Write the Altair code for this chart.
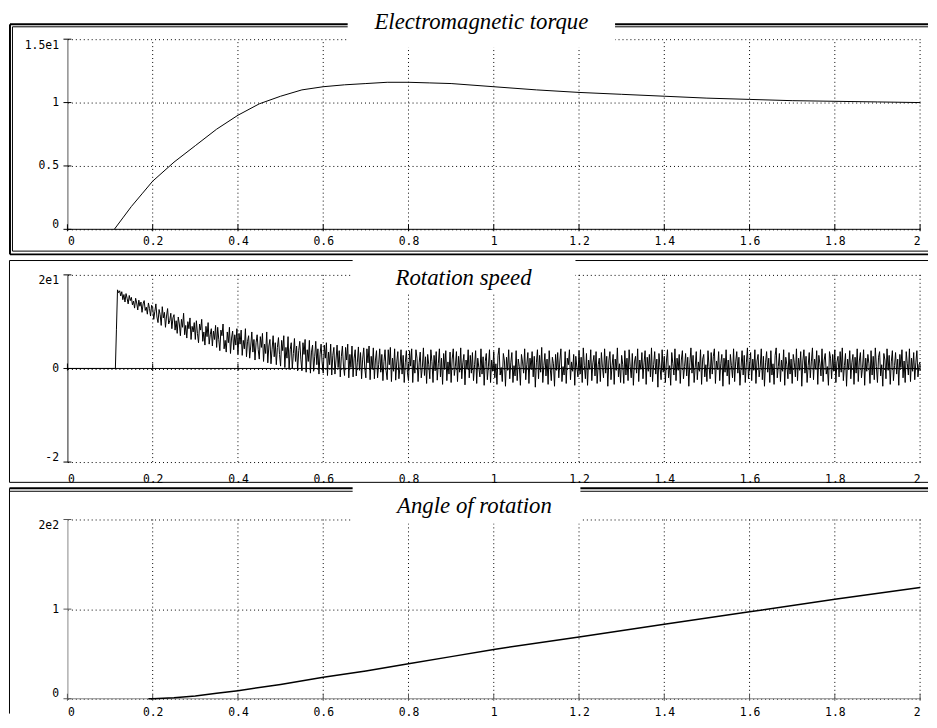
import altair as alt
import pandas as pd

# ---------------- data ----------------
X_TICKS = [0, 0.2, 0.4, 0.6, 0.8, 1.0, 1.2, 1.4, 1.6, 1.8, 2.0]
X_LABELS = ["0", "0.2", "0.4", "0.6", "0.8", "1", "1.2", "1.4", "1.6", "1.8", "2"]

TITLES = ["Electromagnetic torque", "Rotation speed", "Angle of rotation"]

TORQUE_TICKS = [0, 0.5, 1, 1.5]
TORQUE_LABELS = ["0", "0.5", "1", "1.5e1"]
TORQUE_T = [0.11, 0.13, 0.15, 0.175, 0.2, 0.25, 0.3, 0.35, 0.4, 0.45, 0.5, 0.55,
            0.6, 0.65, 0.7, 0.75, 0.8, 0.85, 0.9, 1.0, 1.1, 1.2, 1.3, 1.4, 1.5,
            1.6, 1.7, 1.8, 1.9, 2.0]
TORQUE_V = [0.0, 0.09, 0.18, 0.28, 0.38, 0.53, 0.66, 0.79, 0.90, 0.99, 1.05, 1.10,
            1.125, 1.14, 1.15, 1.16, 1.16, 1.155, 1.15, 1.125, 1.10, 1.08, 1.065, 1.05, 1.035,
            1.025, 1.015, 1.01, 1.005, 1.0]

SPEED_TICKS = [-2, 0, 2]
SPEED_LABELS = ["-2", "0", "2e1"]
SPEED_DT = 0.0025
SPEED_V = [
    0, 0, 0, 0, 0, 0, 0, 0, 0, 0, 0, 0, 0, 0, 0, 0, 0, 0, 0, 0,
    0, 0, 0, 0, 0, 0, 0, 0, 0, 0, 0, 0, 0, 0, 0, 0, 0, 0, 0, 0,
    0, 0, 0, 0, 0, 0,
    0.84, 1.68, 1.62, 1.66,
    1.55, 1.64, 1.47, 1.58, 1.42, 1.60, 1.50, 1.38, 1.56, 1.45,
    1.52, 1.36, 1.44, 1.29, 1.50, 1.40, 1.25, 1.46, 1.33, 1.42,
    1.20, 1.38, 1.45, 1.24, 1.31, 1.16, 1.40, 1.28, 1.12, 1.35,
    1.30, 1.05, 1.22, 1.38, 1.10, 0.98, 1.26, 1.15, 0.92, 1.32,
    1.08, 1.20, 0.88, 1.12, 1.28, 0.95, 1.02, 1.18, 0.85, 1.08,
    1.15, 0.82, 1.02, 0.75, 1.10, 0.95, 0.70, 1.05, 0.88, 1.18,
    0.72, 0.92, 0.65, 1.00, 0.85, 1.08, 0.62, 0.90, 0.78, 0.98,
    0.62, 1.02, 0.75, 0.55, 0.95, 0.82, 1.05, 0.58, 0.78, 0.50,
    0.90, 0.68, 0.98, 0.52, 0.72, 0.85, 0.48, 0.80, 0.62, 0.92,
    0.45, 0.88, 0.62, 0.38, 0.82, 0.70, 0.95, 0.42, 0.60, 0.35,
    0.78, 0.55, 0.88, 0.32, 0.65, 0.80, 0.40, 0.72, 0.50, 0.85,
    0.30, 0.75, 0.52, 0.82, 0.28, 0.60, 0.42, 0.85, 0.25, 0.58,
    0.70, 0.22, 0.48, 0.78, 0.35, 0.62, 0.18, 0.55, 0.72, 0.40,
    0.20, 0.68, 0.45, 0.75, 0.15, 0.52, 0.32, 0.78, 0.12, 0.48,
    0.62, 0.10, 0.40, 0.70, 0.25, 0.55, 0.08, 0.45, 0.66, 0.30,
    0.05, 0.60, 0.38, 0.70, 0.02, 0.45, 0.22, 0.68, -0.02, 0.40,
    0.55, 0.00, 0.32, 0.64, 0.15, 0.48, -0.05, 0.38, 0.58, 0.20,
    -0.05, 0.55, 0.30, 0.62, -0.08, 0.40, 0.15, 0.60, -0.10, 0.35,
    0.50, -0.06, 0.25, 0.58, 0.08, 0.42, -0.12, 0.30, 0.52, 0.12,
    -0.10, 0.50, 0.22, 0.55, -0.15, 0.35, 0.08, 0.52, -0.14, 0.28,
    0.45, -0.12, 0.18, 0.50, 0.02, 0.38, -0.18, 0.25, 0.48, 0.05,
    -0.15, 0.45, 0.18, 0.52, -0.20, 0.30, 0.02, 0.48, -0.18, 0.22,
    0.40, -0.16, 0.12, 0.46, -0.04, 0.34, -0.22, 0.20, 0.44, 0.00,
    -0.20, 0.42, 0.12, 0.48, -0.24, 0.26, -0.02, 0.44, -0.22, 0.18,
    0.38, -0.20, 0.08, 0.42, -0.08, 0.30, -0.26, 0.15, 0.40, -0.05,
    -0.24, 0.40, 0.08, 0.45, -0.28, 0.22, -0.06, 0.42, -0.25, 0.14,
    0.36, -0.22, 0.04, 0.40, -0.12, 0.28, -0.30, 0.12, 0.38, -0.08,
    -0.26, 0.38, 0.05, 0.42, -0.30, 0.18, -0.10, 0.40, 0.22, -0.28,
    0.12, 0.35, -0.20, 0.02, 0.44, -0.15, 0.25, -0.32, 0.30, 0.08,
    -0.22, 0.40, 0.15, -0.30, 0.28, -0.05, 0.36, -0.25, 0.10, 0.42,
    -0.18, 0.22, -0.34, 0.32, 0.00, 0.38, -0.26, 0.14, -0.12, 0.35,
    -0.30, 0.20, 0.42, -0.15, 0.05, 0.36, -0.28, 0.26, -0.08, 0.44,
    -0.22, 0.12, 0.30, -0.35, 0.18, -0.02, 0.40, -0.20, 0.28, -0.10,
    0.34, -0.26, 0.08, 0.38, -0.32, 0.22, 0.02, -0.18, 0.42, -0.12,
    0.25, -0.36, 0.15, 0.32, -0.24, 0.05, 0.40, -0.30, 0.18, -0.06,
    0.36, -0.20, 0.10, -0.34, 0.28, 0.44, -0.14, 0.02, -0.28, 0.32,
    0.16, -0.38, 0.24, -0.04, 0.40, -0.22, 0.12, 0.34, -0.30, 0.06,
    -0.16, 0.38, -0.26, 0.20, 0.04, -0.36, 0.30, 0.14, -0.10, 0.42,
    -0.24, 0.08, 0.34, -0.32, 0.22, -0.02, 0.36, -0.18, 0.26, -0.40,
    0.12, 0.40, -0.22, 0.28, -0.08, 0.45, -0.30, 0.06, 0.32, -0.16,
    0.20, -0.34, 0.38, 0.00, -0.26, 0.24, 0.10, -0.38, 0.30, -0.04,
    0.34, -0.20, 0.16, 0.42, -0.28, 0.04, -0.14, 0.36, -0.32, 0.22,
    0.08, 0.40, -0.24, 0.14, -0.06, 0.30, -0.36, 0.26, 0.02, -0.18,
    0.38, -0.12, 0.24, -0.30, 0.44, 0.06, -0.22, 0.32, -0.36, 0.18,
    -0.02, 0.40, -0.26, 0.12, 0.28, -0.16, 0.36, -0.32, 0.08, 0.22,
    -0.28, 0.34, 0.02, -0.20, 0.42, -0.10, 0.26, -0.38, 0.16, 0.36,
    -0.24, 0.06, 0.30, -0.34, 0.20, -0.04, 0.44, -0.18, 0.10, -0.30,
    0.28, 0.08, -0.32, 0.38, -0.14, 0.22, -0.26, 0.40, 0.04, -0.20,
    0.32, -0.36, 0.14, 0.26, -0.10, 0.42, -0.28, 0.18, -0.02, 0.34,
    -0.22, 0.12, 0.38, -0.34, 0.24, -0.06, 0.30, -0.18, 0.44, -0.28,
    0.08, 0.36, -0.12, 0.20, -0.40, 0.32, 0.02, -0.24, 0.40, -0.08,
    0.26, -0.30, 0.16, 0.40, -0.20, 0.06, -0.36, 0.34, 0.10, -0.14,
    0.42, -0.26, 0.22, -0.04, 0.30, -0.32, 0.18, 0.38, -0.22, 0.04,
    0.32, -0.16, 0.24, -0.38, 0.12, 0.44, -0.10, 0.28, -0.30, 0.02,
    0.36, -0.24, 0.14, -0.06, 0.40, -0.34, 0.20, 0.30, -0.18, 0.08,
    -0.28, 0.38, 0.04, -0.22, 0.34, -0.12, 0.26, 0.42, -0.32, 0.16,
    -0.02, 0.36, -0.26, 0.10, 0.30, -0.38, 0.22, -0.08, 0.40, -0.16,
    0.18, -0.34, 0.30, 0.06, -0.20, 0.42, -0.28, 0.14, 0.36, -0.10,
    0.24, -0.36, 0.02, 0.38, -0.14, 0.28, -0.30, 0.12, 0.44, -0.22,
    0.08, 0.34, -0.26, 0.20, -0.04, 0.40, -0.32, 0.16, 0.30, -0.18,
    0.02, 0.42, -0.24, 0.26, -0.38, 0.12, 0.36, -0.08, 0.22, -0.30,
    0.38, -0.14, 0.10, -0.34, 0.28, 0.44, -0.20, 0.04, 0.32, -0.28,
    0.18, -0.06, 0.40, -0.36, 0.24, 0.08, -0.22, 0.34, -0.12, 0.20,
    -0.32, 0.30, 0.12, -0.18, 0.42, -0.26, 0.22, -0.04, 0.36, -0.38,
    0.16, 0.40, -0.10, 0.26, -0.30, 0.06, 0.34, -0.20, 0.14, 0.44,
    -0.24, 0.20, -0.02, 0.38, -0.34, 0.28, 0.10, -0.16, 0.42, -0.28,
    0.18, 0.32, -0.12, 0.04, -0.36, 0.36, 0.22, -0.22, 0.30, -0.06,
    0.40, -0.30, 0.14, 0.26, -0.18, 0.36, -0.08, 0.44, -0.26, 0.06,
    0.32, -0.38, 0.20, -0.02, 0.38, -0.22, 0.12, 0.30, -0.34, 0.24,
    -0.10, 0.42, -0.28, 0.16, 0.34, -0.20, 0.02, 0.40, -0.36, 0.22,
    -0.06, 0.30, 0.10, -0.32, 0.38, -0.14, 0.26, -0.24, 0.44, 0.04,
    -0.30, 0.24, 0.36, -0.16, 0.08, -0.38, 0.32, 0.18, -0.22, 0.42,
    -0.04, 0.28, -0.34, 0.14, 0.38, -0.26, 0.06, 0.34, -0.12, 0.20,
    -0.36, 0.30, 0.02, 0.40, -0.20, 0.16, -0.30, 0.36, 0.10, -0.14,
    0.42, -0.28, 0.22, -0.06, 0.34, -0.24, 0.12, 0.38, -0.18, 0.08,
    0.14,
]

ANGLE_TICKS = [0, 1, 2]
ANGLE_LABELS = ["0", "1", "2e2"]
ANGLE_T = [0.19, 0.2, 0.25, 0.3, 0.35, 0.4, 0.5, 0.6, 0.7, 0.8, 0.9, 1.0,
           1.2, 1.4, 1.6, 1.8, 2.0]
ANGLE_V = [0.0, 0.0, 0.01, 0.03, 0.06, 0.09, 0.16, 0.24, 0.31, 0.39, 0.47, 0.55,
           0.69, 0.83, 0.97, 1.11, 1.24]

# ---------------- styling ----------------
W = 861
MONO = "DejaVu Sans Mono"
SERIF = "Liberation Serif"
ONE = pd.DataFrame({"k": [0]})


def label_expr(ticks, labels):
    expr = "datum.label"
    for v, l in zip(ticks, labels):
        expr = f"abs(datum.value - ({v})) < 1e-6 ? '{l}' : ({expr})"
    return expr


def seg(x1, x2, y1, y2, w=1, color="black"):
    return alt.Chart(ONE).mark_rule(color=color, strokeWidth=w).encode(
        x=alt.value(x1), x2=alt.value(x2), y=alt.value(y1), y2=alt.value(y2))


def panel(df, ticks, labels, view_h, plot_h, axis_col, zero_col, tick_col,
          xpad, lw, frames, box, title, title_pos):
    ymin, ymax = ticks[0], ticks[-1]
    xs = alt.Scale(domain=[0, 2], nice=False, zero=False)
    ys = alt.Scale(domain=[ymin, ymax], nice=False, zero=False, range=[plot_h, 0])

    xaxis = alt.Axis(values=X_TICKS, labelExpr=label_expr(X_TICKS, X_LABELS),
                     grid=False, domain=False, ticks=False, tickSize=0,
                     labelFlush=True, labelPadding=xpad, labelFont=MONO,
                     labelFontSize=11.5, labelColor="black", title=None)
    yaxis = alt.Axis(values=ticks, labelExpr=label_expr(ticks, labels),
                     grid=True, gridColor="black", gridDash=[1, 3], gridOpacity=1,
                     domain=True, domainColor=axis_col, domainWidth=1,
                     ticks=False, tickSize=0, labelFlush=True, labelPadding=9,
                     labelFont=MONO, labelFontSize=11.5, labelColor="black", title=None)

    X = alt.X("t:Q", scale=xs, axis=xaxis)
    Y = alt.Y("v:Q", scale=ys, axis=yaxis)

    vg = pd.DataFrame({"t": X_TICKS[1:], "v": [ymin] * 10, "v2": [ymax] * 10})
    vgrid = alt.Chart(vg).mark_rule(color="black", strokeDash=[1, 3]).encode(
        x=X, y=Y, y2="v2:Q")

    zero = alt.Chart(pd.DataFrame({"v": [0]})).mark_rule(color=zero_col).encode(y=Y)

    xt = alt.Chart(pd.DataFrame({"t": X_TICKS, "v": [0] * len(X_TICKS)})).mark_tick(
        orient="vertical", size=7, thickness=1, color=tick_col, opacity=1, yOffset=-1.5
    ).encode(x=X, y=Y)

    yt = alt.Chart(pd.DataFrame({"t": [0] * len(ticks), "v": ticks})).mark_tick(
        orient="horizontal", size=8, thickness=1, color=tick_col, opacity=1
    ).encode(x=X, y=Y)

    line = alt.Chart(df).mark_line(color="black", strokeWidth=lw).encode(x=X, y=Y)

    frame_layers = [seg(*f) for f in frames]
    bx1, bx2, by1, by2 = box
    boxl = alt.Chart(ONE).mark_rect(color="white").encode(
        x=alt.value(bx1), x2=alt.value(bx2), y=alt.value(by1), y2=alt.value(by2))
    tx, ty = title_pos
    tl = alt.Chart(ONE).mark_text(font=SERIF, fontStyle="italic", fontSize=23,
                                  align="center", baseline="alphabetic",
                                  color="black").encode(
        x=alt.value(tx), y=alt.value(ty), text=alt.value(title))

    return alt.layer(vgrid, zero, xt, yt, line, *frame_layers, boxl, tl).properties(
        width=W, height=view_h)


torque_df = pd.DataFrame({"t": TORQUE_T, "v": TORQUE_V})
speed_df = pd.DataFrame({"t": [round(i * SPEED_DT, 5) for i in range(len(SPEED_V))],
                         "v": SPEED_V})
angle_df = pd.DataFrame({"t": ANGLE_T, "v": ANGLE_V})

R = 869  # right end of frame lines (runs off the page)

p1 = panel(torque_df, TORQUE_TICKS, TORQUE_LABELS, 192, 192, "#555555", "black", "black", 6, 1,
           [(-58, R, -15, -15, 2), (-58, -58, -15, 217.3, 2), (-58, R, 217.3, 217.3, 2),
            (-55.5, R, -12.5, -12.5, 1), (-55.5, -55.5, -12.5, 214, 1), (-55.5, R, 214, 214, 1)],
           (283, 553, -28, 8), TITLES[0], (418, -10))

p2 = panel(speed_df, SPEED_TICKS, SPEED_LABELS, 201, 189, "#222222", "black", "black", 0, 1,
           [(-58.5, R, -14.5, -14.5, 1), (-58.5, -58.5, -14.5, 209.5, 1),
            (-58.5, R, 209.5, 209.5, 1)],
           (288, 513, -16, 18), TITLES[1], (400, 10))

p3 = panel(angle_df, ANGLE_TICKS, ANGLE_LABELS, 181, 181, "#888888", "#888888", "#555555", 8, 1.5,
           [(-58.5, R, -31.5, -31.5, 2), (-58.5, R, -28.5, -28.5, 1),
            (-58.5, -58.5, -31.5, 196, 1)],
           (288, 518, -33, 4), TITLES[2], (411, -7))

chart = alt.vconcat(p1, p2, p3, spacing=46, bounds="flush").properties(
    padding={"left": 0, "top": 0, "right": 0, "bottom": 0},
    background="white",
).configure_view(stroke=None)

chart.save("out.html", embed_options={"renderer": "svg", "actions": False})
